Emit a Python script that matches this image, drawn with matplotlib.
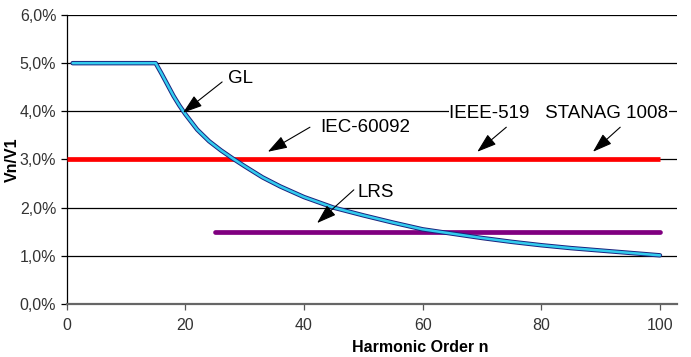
import matplotlib
matplotlib.use("Agg")
import matplotlib.pyplot as plt

plt.rcParams["font.family"] = ["Liberation Sans", "DejaVu Sans"]

# GL limit curve (harmonic order -> Vn/V1 in %)
gl_n = [1, 15, 16, 17, 18, 19, 20, 22, 24, 26, 28, 30, 33, 36, 40, 45, 50,
        55, 60, 65, 70, 75, 80, 85, 90, 95, 100]
gl_v = [5.0, 5.0, 4.78, 4.55, 4.32, 4.12, 3.94, 3.62, 3.38, 3.19, 3.02, 2.86,
        2.63, 2.44, 2.22, 2.0, 1.84, 1.69, 1.55, 1.46, 1.37, 1.29, 1.22, 1.16,
        1.11, 1.06, 1.01]

# flat limits
iec_n = [0, 100]
iec_v = [3.0, 3.0]
lrs_n = [25, 100]
lrs_v = [1.5, 1.5]

y_ticks = [0, 1, 2, 3, 4, 5, 6]
x_ticks = [0, 20, 40, 60, 80, 100]

# text, text pos
labels = [
    ("GL", (27.2, 4.68)),
    ("IEC-60092", (42.7, 3.66)),
    ("IEEE-519   STANAG 1008", (64.5, 3.95)),
    ("LRS", (49.1, 2.31)),
]
# arrow tail, arrow head
arrows = [
    ((26.2, 4.61), (19.6, 3.97)),
    ((41.0, 3.67), (33.9, 3.16)),
    ((74.1, 3.67), (69.2, 3.16)),
    ((93.3, 3.67), (88.7, 3.16)),
    ((48.4, 2.37), (42.2, 1.68)),
]

fig = plt.figure(figsize=(6.91, 3.57), dpi=100)
ax = fig.add_axes([0.0965, 0.1485, 0.8835, 0.8095])

for y in y_ticks[1:]:
    ax.axhline(y, color="black", lw=0.9, zorder=1)

ax.plot(iec_n, iec_v, color="#ff0000", lw=3.4, solid_capstyle="butt", zorder=3)
ax.plot(lrs_n, lrs_v, color="#800080", lw=3.4, solid_capstyle="round", zorder=3)
ax.plot(gl_n, gl_v, color="#1a237e", lw=3.2, solid_capstyle="round",
        solid_joinstyle="round", zorder=4)
ax.plot(gl_n, gl_v, color="#33ccee", lw=1.8, solid_capstyle="round",
        solid_joinstyle="round", zorder=5)

for tail, head in arrows:
    ax.annotate("", xy=head, xytext=tail,
                arrowprops=dict(arrowstyle="-|>,head_length=1.2,head_width=0.4",
                                color="black", lw=0.8, shrinkA=0, shrinkB=0),
                zorder=6)
for label, pos in labels:
    ax.text(pos[0], pos[1], label, fontsize=13.5, ha="left", va="center", zorder=6,
            bbox=dict(facecolor="white", edgecolor="none", pad=0.5))

ax.set_xlim(0, 102.9)
ax.set_ylim(0, 6)
ax.set_xticks(x_ticks)
ax.set_yticks(y_ticks)
ax.set_yticklabels([f"{v:.1f}%".replace(".", ",") for v in y_ticks])
ax.tick_params(axis="both", labelsize=11.5, colors="black", length=4, width=0.9,
               labelcolor="#333333")
ax.tick_params(axis="x", color="#555555", pad=6)

for side in ("top", "right"):
    ax.spines[side].set_visible(False)
ax.spines["left"].set_linewidth(0.9)
ax.spines["bottom"].set_color("#666666")
ax.spines["bottom"].set_linewidth(1.6)

ax.set_xlabel("Harmonic Order n", fontsize=11.5, fontweight="bold")
ax.xaxis.set_label_coords(0.579, -0.125)
ax.set_ylabel("Vn/V1", fontsize=11.5, fontweight="bold")
ax.yaxis.set_label_coords(-0.077, 0.5)

fig.savefig("out.png", dpi=100)
